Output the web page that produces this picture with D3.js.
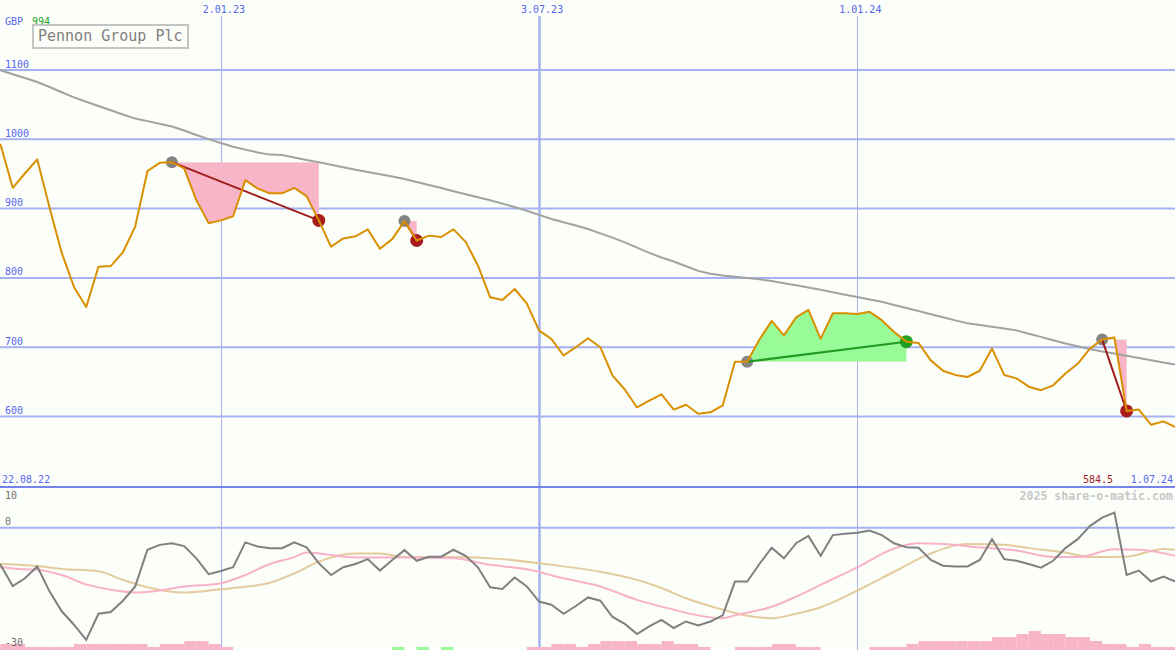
<!DOCTYPE html>
<html><head><meta charset="utf-8">
<script src="https://cdn.jsdelivr.net/npm/d3@7"></script>
<style>html,body{margin:0;padding:0;background:#fcfefa;} svg{display:block;}</style>
</head><body><svg id="c" width="1175" height="650"></svg>
<script>
// ---------- data ----------
const startDate = "2022-08-22"; // first weekly observation
const price = [
 985,992,930,951,971,902,836,787,758,816,
 817,837,874,954,966,967,958,912,879,883,
 889,941,929,922,922,930,918,883,845,857,
 860,870,842,856,882,854,861,859,870,852,
 818,772,768,784,763,724,712,688,700,713,
 700,659,639,613,623,632,610,617,604,606,
 616,679,679,711,738,717,743,754,712,749,
 749,748,751,739,722,708,706,681,666,660,
 657,666,698,660,655,643,638,645,662,676,
 698,711,714,608,610,588,593,584.5];
const movingAvg = [
 1105.8,1099.7,1093.8,1088.4,1082.7,1075.4,1067.9,1060.5,1054.2,1048.1,
 1041.9,1035.7,1029.9,1026.2,1022.3,1018.4,1012.6,1006.2,1000.3,994.6,
 989.2,985.1,981.1,977.9,977.2,973.7,970.2,967,963.4,959.8,
 956.1,952.7,949.7,946.4,942.8,938.4,934,929.6,925.1,920.8,
 916.5,912.1,907.2,902.3,896.8,890.9,885.1,880.3,875.6,870.5,
 864.3,858.1,851.3,843.6,836.1,829.5,823.7,816.8,810.1,805.9,
 803.3,801.6,799.9,798,795.4,792.3,789.3,786.1,782.8,779.2,
 775.6,772.3,768.8,765.5,761,756.5,752.1,747.5,743.2,738.7,
 734.7,732.1,729.5,726.9,724.3,719.5,714.9,710.1,705.3,701.3,
 697.5,693.8,690.8,687.6,684.4,681.2,678,675];
const momentum = [
 -7,-9.1,-14.3,-12.4,-9.5,-15.6,-20.5,-23.8,-27.5,-21.1,
 -20.7,-17.9,-14.4,-5.4,-4.2,-3.8,-4.5,-7.5,-11.4,-10.6,
 -9.7,-3.6,-4.6,-5.0,-5.0,-3.6,-4.8,-8.7,-11.6,-9.7,
 -8.9,-7.7,-10.5,-7.9,-5.5,-8.1,-7.1,-7.1,-5.4,-6.9,
 -9.7,-14.6,-15.0,-12.2,-14.4,-18.1,-18.9,-21.1,-19.2,-17.1,
 -17.9,-21.9,-23.6,-26.1,-24.2,-22.6,-24.6,-23.0,-24.0,-23.0,
 -21.5,-13.2,-13.2,-8.9,-4.9,-7.5,-3.8,-2.0,-6.9,-1.8,
 -1.5,-1.2,-0.7,-1.8,-3.8,-4.8,-4.9,-7.9,-9.3,-9.5,
 -9.5,-7.9,-2.8,-7.7,-8.1,-8.9,-9.8,-8.1,-5.0,-2.8,
 0.4,2.5,3.7,-11.6,-10.5,-13.2,-12.0,-13.2];
const pinkIdx  = [0,1,3,4,6,8,10,12,14,16,18,19,21,23,25,26,28,30,34,38,41,44,47,50,53,56,58,60,61,64,66,68,71,74,76,78,81,84,87,89,92,94,97];
const pinkVals = [-9.5,-9.7,-10.2,-10.3,-11.6,-13.9,-15.2,-15.9,-15.4,-14.4,-14.0,-13.6,-11.6,-8.9,-7.2,-6.1,-6.7,-7.3,-7.3,-7.5,-9.1,-10.2,-12.4,-14.4,-17.7,-20.1,-21.5,-22.2,-21.5,-19.4,-16.9,-14.0,-9.7,-5.1,-3.8,-4.0,-4.8,-5.6,-7.2,-7.2,-5.3,-5.4,-6.9];
const tanIdx  = [0,1,4,6,9,11,13,16,19,21,23,25,27,30,32,34,38,42,46,50,53,55,57,60,62,64,66,68,71,74,77,80,83,85,88,90,93,96,97];
const tanVals = [-8.8,-8.9,-9.4,-10.1,-10.7,-12.8,-14.6,-15.9,-15.1,-14.5,-13.5,-11.2,-8.3,-6.3,-6.3,-7.2,-7.2,-7.7,-9.1,-10.8,-12.8,-14.8,-17.3,-20.1,-21.6,-22.2,-21.1,-19.5,-15.4,-10.8,-6.3,-4.0,-4.2,-5.0,-6.1,-7.2,-7.1,-5.2,-5.4];
const barLevels = [
 -2,-2,-2,-1,-1,-1,-1,-2,-2,-2,
 -2,-2,-2,-1,-2,-2,-3,-3,-2,-1,
 0,0,0,0,0,0,0,0,0,0,
 0,0,0,1,0,1,0,1,0,0,
 0,0,0,0,-1,-1,-2,-2,-1,-2,
 -3,-3,-3,-2,-2,-3,-2,-2,-1,0,
 0,-1,-1,-1,-2,-2,-1,-1,0,0,
 0,0,-1,-1,-1,-2,-3,-3,-3,-3,
 -3,-3,-4,-4,-5,-6,-5,-5,-4,-4,
 -3,-2,-2,-1,-2,-1,-1,0];
const priceTicks = [600,700,800,900,1000,1100];
const lowerTicks = [10,0,-30];
const dateTicks = ["2023-01-02","2023-07-03","2024-01-01"];
const evStart = [15,34,62,91];
const evEnd   = [27,35,75,93];
const title = "Pennon Group Plc";
const currency = "GBP";
const headValue = "994";
const lastValueLabel = "584.5";
const firstDateLabel = "22.08.22";
const lastDateLabel = "1.07.24";
const credit = "2025 share-o-matic.com";

// ---------- chart ----------
const W = 1175, H = 650, SPLIT = 487;
const svg = d3.select("#c");
const FONT = "'DejaVu Sans Mono', 'Liberation Mono', monospace";
const d0 = d3.utcParse("%Y-%m-%d")(startDate);
const dates = price.map((_, i) => d3.utcDay.offset(d0, 7 * i));
const x = d3.scaleUtc().domain([dates[0], dates[dates.length - 1]]).range([-11.7, 1175.6]);
const y = d3.scaleLinear().domain([600, 1100]).range([416.5, 70]);
const y2 = d3.scaleLinear().domain([-30, 10]).range([H, SPLIT]);
const barH = d3.scaleLinear().domain([0, 6]).range([0, 18.9]);

svg.append("rect").attr("width", W).attr("height", H).attr("fill", "#fcfefa");
const defs = svg.append("defs");
defs.append("clipPath").attr("id", "clipTop").append("rect").attr("x", 0).attr("y", 0).attr("width", W).attr("height", SPLIT);
defs.append("clipPath").attr("id", "clipBot").append("rect").attr("x", 0).attr("y", SPLIT).attr("width", W).attr("height", H - SPLIT);

// horizontal grid, main
svg.append("g").selectAll("line").data(priceTicks).join("line")
  .attr("x1", 0).attr("x2", W).attr("y1", d => y(d)).attr("y2", d => y(d))
  .attr("stroke", "#a4b2f0").attr("stroke-width", 2);
// zero line lower panel
svg.append("line").attr("x1", 0).attr("x2", W).attr("y1", y2(0)).attr("y2", y2(0))
  .attr("stroke", "#a4b2f0").attr("stroke-width", 2);
// vertical date lines
const tParse = d3.utcParse("%Y-%m-%d");
const fmt = d3.utcFormat("%-d.%m.%y");
const vt = dateTicks.map(tParse);
svg.append("g").selectAll("line").data(vt).join("line")
  .attr("x1", d => Math.round(x(d)) + 0.5).attr("x2", d => Math.round(x(d)) + 0.5)
  .attr("y1", 16).attr("y2", H)
  .attr("stroke", d => d.getUTCMonth() === 6 ? "#a4b2f0" : "#a8b0e8")
  .attr("stroke-width", d => d.getUTCMonth() === 6 ? 2.5 : 1);
svg.append("g").selectAll("text").data(vt).join("text")
  .attr("x", d => x(d) + 3).attr("y", 13).attr("text-anchor", "middle")
  .attr("font-family", FONT).attr("font-size", 10).attr("fill", "#5566ee")
  .text(d => fmt(d));
// separator
svg.append("line").attr("x1", 0).attr("x2", W).attr("y1", SPLIT).attr("y2", SPLIT)
  .attr("stroke", "#7484ea").attr("stroke-width", 2);

// ---------- main panel ----------
const gTop = svg.append("g").attr("clip-path", "url(#clipTop)");

// event fills
evStart.forEach((s, k) => {
  const e = evEnd[k];
  const lvl = price[s];
  const idx = d3.range(s, e + 1);
  const area = d3.area().x(i => x(dates[i])).y0(y(lvl)).y1(i => y(price[i]));
  const ca = "ca" + k, cb = "cb" + k;
  defs.append("clipPath").attr("id", ca).append("rect")
    .attr("x", 0).attr("y", 0).attr("width", W).attr("height", y(lvl));
  defs.append("clipPath").attr("id", cb).append("rect")
    .attr("x", 0).attr("y", y(lvl)).attr("width", W).attr("height", SPLIT - y(lvl));
  gTop.append("g").attr("clip-path", `url(#${ca})`).append("path")
    .attr("d", area(idx)).attr("fill", "#98fb98");
  gTop.append("g").attr("clip-path", `url(#${cb})`).append("path")
    .attr("d", area(idx)).attr("fill", "#f9b5c8");
});

// moving average
gTop.append("path")
  .attr("d", d3.line().x((d, i) => x(dates[i])).y(d => y(d))(movingAvg))
  .attr("fill", "none").attr("stroke", "#a2a2a2").attr("stroke-width", 2);

// markers
evStart.forEach((s, k) => {
  const e = evEnd[k];
  const gain = price[e] > price[s];
  gTop.append("circle").attr("cx", x(dates[s])).attr("cy", y(price[s])).attr("r", 6).attr("fill", "#858585");
  gTop.append("circle").attr("cx", x(dates[e])).attr("cy", y(price[e])).attr("r", 6.5).attr("fill", gain ? "#22a022" : "#a81e1e");
  gTop.append("line").attr("x1", x(dates[s])).attr("y1", y(price[s])).attr("x2", x(dates[e])).attr("y2", y(price[e]))
    .attr("stroke", gain ? "#229a22" : "#a01c1c").attr("stroke-width", 2);
});

// price line
gTop.append("path")
  .attr("d", d3.line().x((d, i) => x(dates[i])).y(d => y(d))(price))
  .attr("fill", "none").attr("stroke", "#d99000").attr("stroke-width", 2).attr("stroke-linejoin", "round");

// ---------- lower panel ----------
const gBot = svg.append("g").attr("clip-path", "url(#clipBot)");
const step = x(dates[1]) - x(dates[0]);
gBot.append("g").selectAll("rect").data(barLevels).join("rect")
  .attr("x", (d, i) => x(dates[i])).attr("width", step)
  .attr("y", d => H - Math.round(barH(Math.abs(d)))).attr("height", d => Math.round(barH(Math.abs(d))))
  .attr("fill", d => d > 0 ? "#98fb98" : "#f9b5c8");

const lineIdx = (idxs, vals) => d3.line().curve(d3.curveMonotoneX)
  .x((d, j) => x(dates[idxs[j]])).y(d => y2(d))(vals);
gBot.append("path").attr("d", lineIdx(tanIdx, tanVals))
  .attr("fill", "none").attr("stroke", "#e3cb9c").attr("stroke-width", 2);
gBot.append("path").attr("d", lineIdx(pinkIdx, pinkVals))
  .attr("fill", "none").attr("stroke", "#f8b2c8").attr("stroke-width", 2);
gBot.append("path")
  .attr("d", d3.line().x((d, i) => x(dates[i])).y(d => y2(d))(momentum))
  .attr("fill", "none").attr("stroke", "#808080").attr("stroke-width", 2);

// ---------- texts ----------
const txt = (t, xx, yy, opts = {}) => svg.append("text").attr("x", xx).attr("y", yy)
  .attr("font-family", FONT).attr("font-size", opts.size || 10)
  .attr("font-weight", opts.weight || "normal")
  .attr("text-anchor", opts.anchor || "start").attr("fill", opts.fill || "#5566ee").text(t);

svg.append("g").selectAll("text").data(priceTicks).join("text")
  .attr("x", 5).attr("y", d => y(d) - 2.5)
  .attr("font-family", FONT).attr("font-size", 10).attr("fill", "#5566ee").text(d => d);

txt(currency, 5, 25);
txt(headValue, 32, 25, { fill: "#22a022" });
svg.append("rect").attr("x", 33).attr("y", 25).attr("width", 155).attr("height", 23)
  .attr("fill", "none").attr("stroke", "#c4c4c4").attr("stroke-width", 2);
txt(title, 38, 41, { size: 15, fill: "#808080" });

txt(firstDateLabel, 2, 483);
txt(lastValueLabel, 1113, 483, { anchor: "end", fill: "#a02020" });
txt(lastDateLabel, 1173, 483, { anchor: "end" });
txt(credit, 1173, 500, { anchor: "end", size: 11.6, weight: "bold", fill: "#c8c8c8" });

svg.append("g").selectAll("text").data(lowerTicks).join("text")
  .attr("x", 5).attr("y", d => d === 10 ? y2(d) + 12 : (d === -30 ? y2(d) - 4 : y2(d) - 2.5))
  .attr("font-family", FONT).attr("font-size", 10).attr("fill", "#707070").text(d => d);
</script></body></html>
